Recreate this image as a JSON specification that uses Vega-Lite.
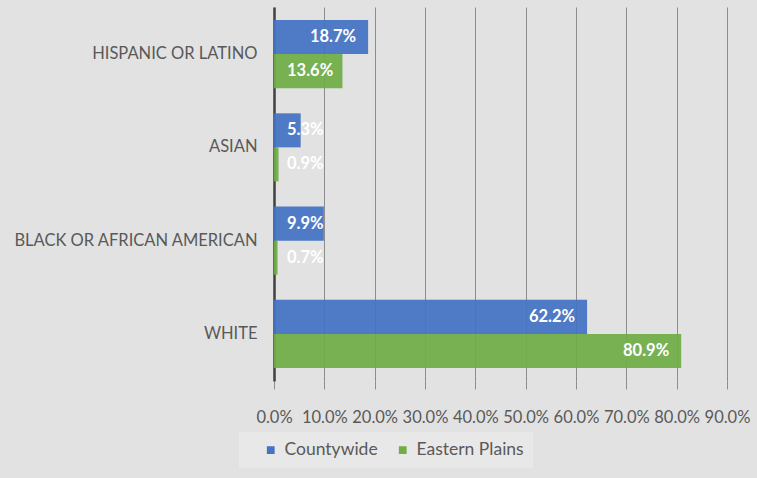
{
  "$schema": "https://vega.github.io/schema/vega-lite/v6.json",
  "width": 453,
  "height": 374,
  "autosize": {"type": "none"},
  "padding": {"left": 274, "top": 7, "right": 30, "bottom": 97},
  "background": "#e2e2e2",
  "config": {
    "view": {"stroke": null},
    "font": "Lato"
  },
  "data": {
    "values": [
      {"race": "HISPANIC OR LATINO", "series": "Countywide", "value": 0.187},
      {"race": "HISPANIC OR LATINO", "series": "Eastern Plains", "value": 0.136},
      {"race": "ASIAN", "series": "Countywide", "value": 0.053},
      {"race": "ASIAN", "series": "Eastern Plains", "value": 0.009},
      {"race": "BLACK OR AFRICAN AMERICAN", "series": "Countywide", "value": 0.099},
      {"race": "BLACK OR AFRICAN AMERICAN", "series": "Eastern Plains", "value": 0.007},
      {"race": "WHITE", "series": "Countywide", "value": 0.622},
      {"race": "WHITE", "series": "Eastern Plains", "value": 0.809}
    ]
  },
  "encoding": {
    "y": {
      "field": "race",
      "type": "nominal",
      "sort": null,
      "scale": {"paddingInner": 0.27, "paddingOuter": 0.14},
      "axis": {
        "title": null,
        "ticks": false,
        "labelPadding": 17,
        "labelFontSize": 16.5,
        "labelLimit": 300,
        "labelColor": "#595959",
        "labelFont": "Lato",
        "domain": true,
        "domainColor": "#404040",
        "domainWidth": 2.5,
        "grid": false
      }
    },
    "yOffset": {"field": "series", "type": "nominal", "sort": ["Countywide", "Eastern Plains"], "scale": {"paddingInner": 0, "paddingOuter": 0}}
  },
  "layer": [
    {
      "mark": {"type": "bar", "opacity": 0.93},
      "encoding": {
        "x": {
          "field": "value",
          "type": "quantitative",
          "scale": {"domain": [0, 0.9], "nice": false},
          "axis": {
            "title": null,
            "format": ".1%",
            "values": [0, 0.1, 0.2, 0.3, 0.4, 0.5, 0.6, 0.7, 0.8, 0.9],
            "labelOverlap": false,
            "labelBound": false,
            "labelFlush": false,
            "domain": false,
            "grid": true,
            "gridColor": "#8c8c8c",
            "gridWidth": 1,
            "ticks": true,
            "tickColor": "#8c8c8c",
            "tickSize": 8,
            "labelPadding": 20,
            "labelFontSize": 16.5,
            "labelColor": "#595959",
            "labelFont": "Lato"
          }
        },
        "color": {
          "field": "series",
          "type": "nominal",
          "sort": ["Countywide", "Eastern Plains"],
          "scale": {"domain": ["Countywide", "Eastern Plains"], "range": ["#4472C4", "#70AD47"]},
          "legend": {
            "title": null,
            "orient": "none",
            "direction": "horizontal",
            "legendX": -35,
            "legendY": 425,
            "fillColor": "#e8e8e8",
            "padding": 9,
            "symbolType": "square",
            "symbolSize": 60,
            "symbolOpacity": 1,
            "symbolStrokeWidth": 0,
            "labelFontSize": 17.5,
            "labelColor": "#595959",
            "labelFont": "Lato",
            "columnPadding": 2,
            "symbolOffset": 14,
            "labelOffset": 5
          }
        }
      }
    },
    {
      "transform": [{"filter": "datum.value >= 0.15"}],
      "mark": {"type": "text", "align": "right", "baseline": "middle", "dx": -12, "color": "white", "fontWeight": "bold", "fontSize": 16.5, "font": "Lato"},
      "encoding": {
        "x": {"field": "value", "type": "quantitative"},
        "text": {"field": "value", "type": "quantitative", "format": ".1%"}
      }
    },
    {
      "transform": [{"filter": "datum.value < 0.15"}],
      "mark": {"type": "text", "align": "left", "baseline": "middle", "dx": 13, "color": "white", "fontWeight": "bold", "fontSize": 16.5, "font": "Lato"},
      "encoding": {
        "x": {"datum": 0, "type": "quantitative"},
        "text": {"field": "value", "type": "quantitative", "format": ".1%"}
      }
    }
  ]
}
